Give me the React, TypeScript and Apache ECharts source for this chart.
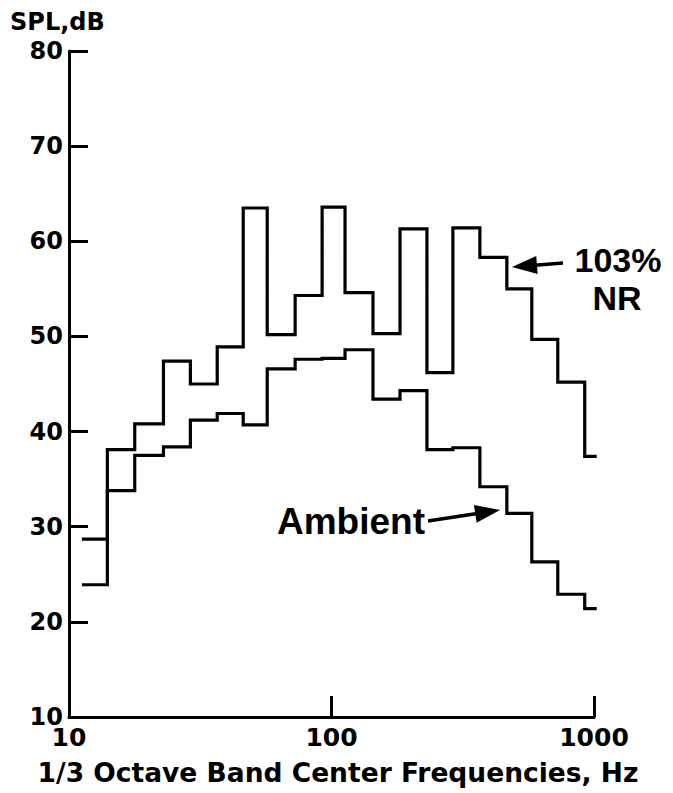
import React, { useEffect, useRef } from "react";
import * as echarts from "echarts";

// 1/3 octave band centre frequencies (Hz)
const bandCenters = [12.5, 16, 20, 25, 31.5, 40, 50, 63, 80, 100, 125, 160, 200, 250, 315, 400, 500, 630, 800, 1000];
// band edges as drawn in the figure (Hz), one more than the bands
const bandEdges = [11.2, 14.0, 17.8, 22.9, 29.0, 36.7, 46.1, 56.9, 72.7, 92.1, 112.6, 143.9, 182.4, 231, 290, 367.5, 465.6, 579.5, 727.8, 921.8, 1024];
// SPL, dB
const nr103 = [28.7, 38.1, 40.8, 47.4, 45.0, 48.9, 63.5, 50.2, 54.3, 63.6, 54.6, 50.3, 61.3, 46.2, 61.4, 58.3, 55.0, 49.7, 45.2, 37.4];
const ambient = [23.9, 33.8, 37.5, 38.4, 41.2, 41.9, 40.7, 46.6, 47.6, 47.7, 48.6, 43.4, 44.3, 38.1, 38.3, 34.2, 31.4, 26.3, 22.9, 21.4];
const yTicks = [10, 20, 30, 40, 50, 60, 70, 80];
const xTicks = [10, 100, 1000];

const FONT = "'DejaVu Sans', sans-serif";
const FONT_ANN = "'Liberation Sans', Arial, sans-serif";

function stepPoints(vals: number[]) {
  const pts: number[][] = vals.map((v, i) => [bandEdges[i], v]);
  pts.push([bandEdges[vals.length], vals[vals.length - 1]]);
  return pts;
}

function arrow(tail: number[], tip: number[], headLen: number, headHalf: number, lw: number) {
  const dx = tip[0] - tail[0];
  const dy = tip[1] - tail[1];
  const L = Math.sqrt(dx * dx + dy * dy);
  const ux = dx / L, uy = dy / L;
  const px = -uy, py = ux;
  const bx = tip[0] - ux * headLen, by = tip[1] - uy * headLen;
  return [
    {
      type: "line",
      shape: { x1: tail[0], y1: tail[1], x2: bx + ux * 2, y2: by + uy * 2 },
      style: { stroke: "#000", lineWidth: lw },
    },
    {
      type: "polygon",
      shape: {
        points: [
          [tip[0], tip[1]],
          [bx + px * headHalf, by + py * headHalf],
          [bx - px * headHalf, by - py * headHalf],
        ],
      },
      style: { fill: "#000" },
    },
  ];
}

export default function App() {
  const ref = useRef<HTMLDivElement>(null);
  useEffect(() => {
    if (!ref.current) return;
    const chart = echarts.init(ref.current, undefined, { renderer: "svg" });
    const lineStyle = { color: "#000", width: 3.2, join: "miter" as const };
    const annStyle = {
      fontFamily: FONT_ANN,
      fontWeight: "bold",
      fontSize: 34,
      lineHeight: 34,
      fill: "#000",
      verticalAlign: "middle",
    };
    chart.setOption({
      animation: false,
      backgroundColor: "#fff",
      grid: { left: 69, right: 79, top: 51, bottom: 76, containLabel: false },
      xAxis: {
        type: "log",
        logBase: 10,
        min: xTicks[0],
        max: xTicks[xTicks.length - 1],
        axisLine: { show: true, lineStyle: { color: "#000", width: 3 } },
        axisTick: { show: true, inside: true, length: 21, lineStyle: { color: "#000", width: 3 } },
        minorTick: { show: false },
        splitLine: { show: false },
        axisLabel: {
          fontFamily: FONT,
          fontWeight: "bold",
          fontSize: 25,
          color: "#000",
          margin: 8,
          formatter: (v: number) => String(Math.round(v)),
        },
      },
      yAxis: {
        type: "value",
        min: yTicks[0],
        max: yTicks[yTicks.length - 1],
        interval: 10,
        axisLine: { show: true, lineStyle: { color: "#000", width: 3 } },
        axisTick: { show: true, inside: true, length: 19, lineStyle: { color: "#000", width: 3 } },
        splitLine: { show: false },
        axisLabel: {
          fontFamily: FONT,
          fontWeight: "bold",
          fontSize: 24,
          color: "#000",
          margin: 6,
        },
      },
      series: [
        {
          name: "103% NR",
          type: "line",
          step: "end",
          data: stepPoints(nr103),
          symbol: "none",
          lineStyle,
        },
        {
          name: "Ambient",
          type: "line",
          step: "end",
          data: stepPoints(ambient),
          symbol: "none",
          lineStyle,
        },
      ],
      graphic: [
        {
          type: "text",
          x: 10,
          y: 22,
          style: { text: "SPL,dB", fontFamily: FONT, fontWeight: "bold", fontSize: 24, fill: "#000", verticalAlign: "middle" },
        },
        {
          type: "text",
          x: 338,
          y: 772,
          style: {
            text: "1/3 Octave Band Center Frequencies, Hz",
            fontFamily: FONT,
            fontWeight: "bold",
            fontSize: 26.5,
            fill: "#000",
            align: "center",
            verticalAlign: "middle",
          },
        },
        { type: "text", x: 618, y: 260, style: { ...annStyle, text: "103%", align: "center" } },
        { type: "text", x: 617, y: 298, style: { ...annStyle, text: "NR", align: "center" } },
        { type: "text", x: 277, y: 521, style: { ...annStyle, text: "Ambient", align: "left", fontSize: 37, lineHeight: 37 } },
        ...arrow([563, 263], [512, 267], 25, 9, 3.5),
        ...arrow([428, 521], [500, 510], 25, 9, 3.5),
      ],
    });
    return () => chart.dispose();
  }, []);
  return (
    <div
      ref={ref}
      style={{ position: "absolute", left: 0, top: 0, width: 673, height: 793 }}
    />
  );
}
